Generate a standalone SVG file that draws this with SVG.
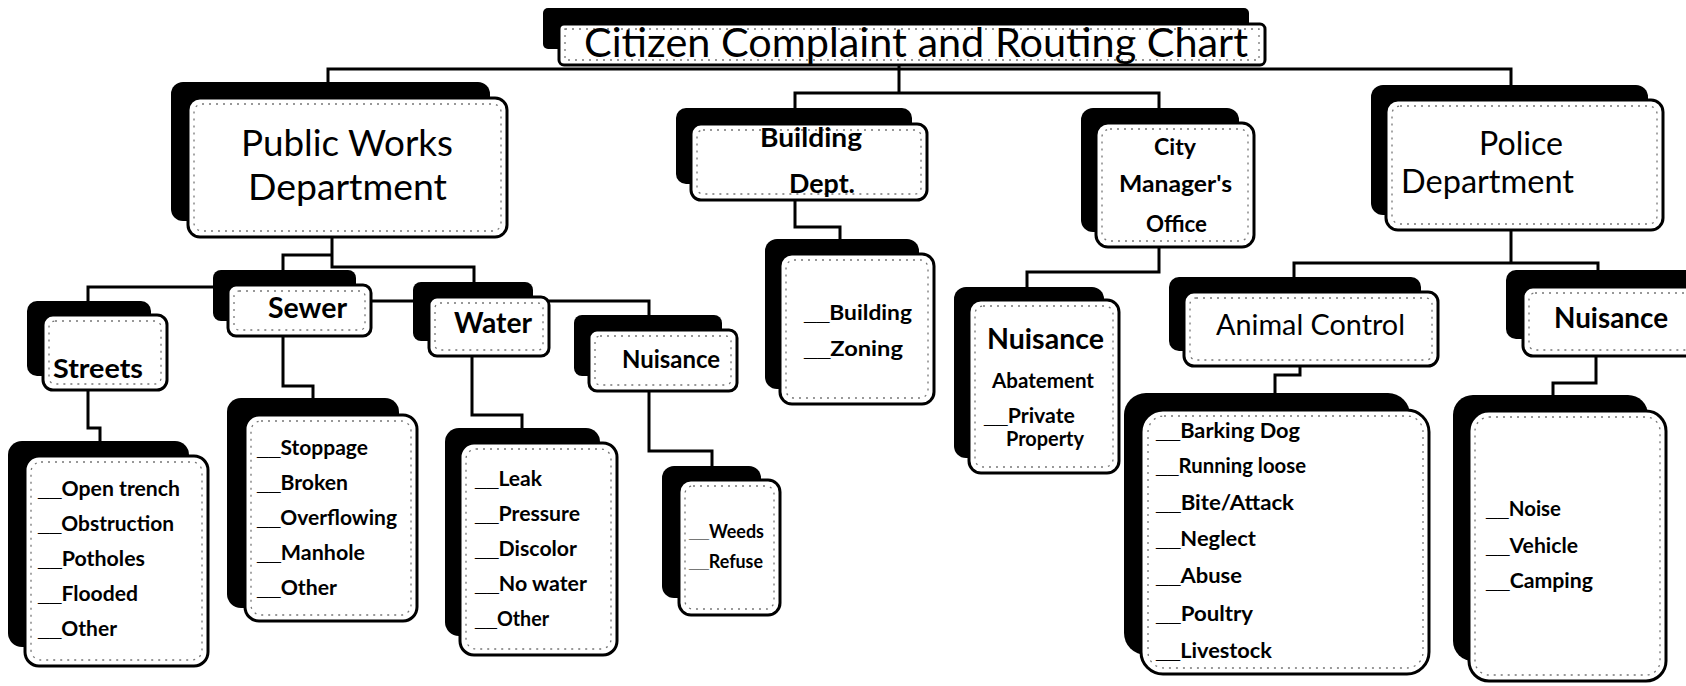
<svg xmlns="http://www.w3.org/2000/svg" width="1686" height="686" viewBox="0 0 1686 686">
<style>
.sh{fill:#000}
.fr{fill:#fff;stroke:#000;stroke-width:3}
.in{fill:none;stroke:#777;stroke-width:1.3;stroke-dasharray:2 5}
.cn{fill:none;stroke:#000;stroke-width:3}
text{font-family:Lato,"Open Sans","Liberation Sans",sans-serif;fill:#000}
.b{font-weight:bold}
.it{font-size:21px;font-weight:bold}
.u{font-family:"Liberation Sans",Arial,sans-serif}
</style>
<rect width="1686" height="686" fill="#fff"/>
<g id="connectors">
<path class="cn" d="M328 82V69H1511V85"/>
<path class="cn" d="M899 65V93"/>
<path class="cn" d="M795 110V93H1159V108"/>
<path class="cn" d="M332 237V267H474V282"/>
<path class="cn" d="M332 255H283V270"/>
<path class="cn" d="M88 302V287H283"/>
<path class="cn" d="M283 280V301H649V315"/>
<path class="cn" d="M795 200V227H840V240"/>
<path class="cn" d="M1159 247V272H1027V287"/>
<path class="cn" d="M1511 230V263"/>
<path class="cn" d="M1294 277V263H1598V270"/>
<path class="cn" d="M283 336V386H313V398"/>
<path class="cn" d="M88 390V428H100V441"/>
<path class="cn" d="M472 356V415H522V428"/>
<path class="cn" d="M649 391V451H712V466"/>
<path class="cn" d="M1300 366V375H1275V393"/>
<path class="cn" d="M1596 356V383H1553V395"/>
</g>
<g id="title">
<rect class="sh" x="543" y="8" width="706" height="41" rx="5"/>
<rect class="fr" x="559" y="24" width="706" height="41" rx="5"/>
<rect class="in" x="565" y="29" width="694" height="31"/>
<text x="584" y="57" font-size="40" textLength="664" lengthAdjust="spacingAndGlyphs">Citizen Complaint and Routing Chart</text>
</g>
<g id="public-works">
<rect class="sh" x="171" y="82" width="319" height="139" rx="12"/>
<rect class="fr" x="188" y="98" width="319" height="139" rx="12"/>
<rect class="in" x="194" y="104" width="307" height="127" rx="8"/>
<text x="241" y="156" font-size="36" textLength="212" lengthAdjust="spacingAndGlyphs">Public Works</text>
<text x="248" y="200" font-size="36" textLength="199" lengthAdjust="spacingAndGlyphs">Department</text>
</g>
<g id="building">
<rect class="sh" x="676" y="108" width="236" height="76" rx="10"/>
<rect class="fr" x="691" y="124" width="236" height="76" rx="10"/>
<rect class="in" x="697" y="130" width="224" height="64" rx="6"/>
<text class="b" x="760" y="147" font-size="27" textLength="102" lengthAdjust="spacingAndGlyphs">Building</text>
<text class="b" x="789" y="193" font-size="27" textLength="66" lengthAdjust="spacingAndGlyphs">Dept.</text>
</g>
<g id="city-manager">
<rect class="sh" x="1081" y="108" width="158" height="124" rx="12"/>
<rect class="fr" x="1096" y="123" width="158" height="124" rx="12"/>
<rect class="in" x="1102" y="129" width="146" height="112" rx="8"/>
<text class="b" x="1154" y="155" font-size="23" textLength="42" lengthAdjust="spacingAndGlyphs">City</text>
<text class="b" x="1119" y="192" font-size="23" textLength="113" lengthAdjust="spacingAndGlyphs">Manager's</text>
<text class="b" x="1146" y="232" font-size="23" textLength="61" lengthAdjust="spacingAndGlyphs">Office</text>
</g>
<g id="police">
<rect class="sh" x="1371" y="85" width="277" height="130" rx="12"/>
<rect class="fr" x="1386" y="100" width="277" height="130" rx="12"/>
<rect class="in" x="1392" y="106" width="265" height="118" rx="8"/>
<text x="1479" y="155" font-size="32" textLength="84" lengthAdjust="spacingAndGlyphs">Police</text>
<text x="1401" y="193" font-size="32" textLength="173" lengthAdjust="spacingAndGlyphs">Department</text>
</g>
<g id="streets">
<rect class="sh" x="27" y="301" width="124" height="75" rx="10"/>
<rect class="fr" x="43" y="315" width="124" height="75" rx="10"/>
<rect class="in" x="49" y="321" width="112" height="63" rx="6"/>
<text class="b" x="53" y="378" font-size="27" textLength="90" lengthAdjust="spacingAndGlyphs">Streets</text>
</g>
<g id="sewer">
<rect class="sh" x="213" y="270" width="143" height="51" rx="8"/>
<rect class="fr" x="228" y="285" width="143" height="51" rx="8"/>
<rect class="in" x="234" y="291" width="131" height="39" rx="5"/>
<text class="b" x="268" y="318" font-size="28" textLength="79" lengthAdjust="spacingAndGlyphs">Sewer</text>
</g>
<g id="water">
<rect class="sh" x="413" y="282" width="120" height="59" rx="8"/>
<rect class="fr" x="429" y="297" width="120" height="59" rx="8"/>
<rect class="in" x="435" y="303" width="108" height="47" rx="5"/>
<text class="b" x="454" y="333" font-size="28" textLength="78" lengthAdjust="spacingAndGlyphs">Water</text>
</g>
<g id="nuisance-pw">
<rect class="sh" x="574" y="315" width="148" height="61" rx="8"/>
<rect class="fr" x="589" y="330" width="148" height="61" rx="8"/>
<rect class="in" x="595" y="336" width="136" height="49" rx="5"/>
<text class="b" x="622" y="368" font-size="25" textLength="98" lengthAdjust="spacingAndGlyphs">Nuisance</text>
</g>
<g id="building-list">
<rect class="sh" x="765" y="239" width="154" height="150" rx="12"/>
<rect class="fr" x="780" y="254" width="154" height="150" rx="12"/>
<rect class="in" x="786" y="260" width="142" height="138" rx="8"/>
<text class="it" x="804" y="320" textLength="108" lengthAdjust="spacingAndGlyphs"><tspan class="u">__</tspan>Building</text>
<text class="it" x="804" y="356" textLength="99" lengthAdjust="spacingAndGlyphs"><tspan class="u">__</tspan>Zoning</text>
</g>
<g id="nuisance-abatement">
<rect class="sh" x="954" y="287" width="150" height="171" rx="12"/>
<rect class="fr" x="969" y="300" width="150" height="173" rx="12"/>
<rect class="in" x="975" y="306" width="138" height="161" rx="8"/>
<text class="b" x="987" y="349" font-size="28" textLength="117" lengthAdjust="spacingAndGlyphs">Nuisance</text>
<text class="b" x="992" y="388" font-size="20" textLength="102" lengthAdjust="spacingAndGlyphs">Abatement</text>
<text class="b" x="984" y="423" font-size="20" textLength="91" lengthAdjust="spacingAndGlyphs"><tspan class="u">__</tspan>Private</text>
<text class="b" x="1006" y="446" font-size="20" textLength="78" lengthAdjust="spacingAndGlyphs">Property</text>
</g>
<g id="animal-control">
<rect class="sh" x="1169" y="277" width="252" height="74" rx="10"/>
<rect class="fr" x="1184" y="292" width="254" height="74" rx="10"/>
<rect class="in" x="1190" y="298" width="242" height="62" rx="6"/>
<text x="1216" y="335" font-size="28" textLength="189" lengthAdjust="spacingAndGlyphs">Animal Control</text>
</g>
<g id="nuisance-police">
<rect class="sh" x="1506" y="270" width="190" height="69" rx="10"/>
<rect class="fr" x="1523" y="287" width="190" height="69" rx="10"/>
<rect class="in" x="1529" y="293" width="178" height="57" rx="6"/>
<text class="b" x="1554" y="328" font-size="28" textLength="114" lengthAdjust="spacingAndGlyphs">Nuisance</text>
</g>
<g id="streets-list">
<rect class="sh" x="8" y="441" width="181" height="206" rx="14"/>
<rect class="fr" x="25" y="456" width="183" height="210" rx="14"/>
<rect class="in" x="31" y="462" width="171" height="198" rx="10"/>
<text class="it" x="38" y="496" textLength="142" lengthAdjust="spacingAndGlyphs"><tspan class="u">__</tspan>Open trench</text>
<text class="it" x="38" y="531" textLength="136" lengthAdjust="spacingAndGlyphs"><tspan class="u">__</tspan>Obstruction</text>
<text class="it" x="38" y="566" textLength="107" lengthAdjust="spacingAndGlyphs"><tspan class="u">__</tspan>Potholes</text>
<text class="it" x="38" y="601" textLength="100" lengthAdjust="spacingAndGlyphs"><tspan class="u">__</tspan>Flooded</text>
<text class="it" x="38" y="636" textLength="79" lengthAdjust="spacingAndGlyphs"><tspan class="u">__</tspan>Other</text>
</g>
<g id="sewer-list">
<rect class="sh" x="227" y="398" width="172" height="210" rx="14"/>
<rect class="fr" x="245" y="415" width="172" height="206" rx="14"/>
<rect class="in" x="251" y="421" width="160" height="194" rx="10"/>
<text class="it" x="257" y="455" textLength="111" lengthAdjust="spacingAndGlyphs"><tspan class="u">__</tspan>Stoppage</text>
<text class="it" x="257" y="490" textLength="91" lengthAdjust="spacingAndGlyphs"><tspan class="u">__</tspan>Broken</text>
<text class="it" x="257" y="525" textLength="140" lengthAdjust="spacingAndGlyphs"><tspan class="u">__</tspan>Overflowing</text>
<text class="it" x="257" y="560" textLength="108" lengthAdjust="spacingAndGlyphs"><tspan class="u">__</tspan>Manhole</text>
<text class="it" x="257" y="595" textLength="80" lengthAdjust="spacingAndGlyphs"><tspan class="u">__</tspan>Other</text>
</g>
<g id="water-list">
<rect class="sh" x="445" y="428" width="155" height="208" rx="14"/>
<rect class="fr" x="460" y="443" width="157" height="212" rx="14"/>
<rect class="in" x="466" y="449" width="145" height="200" rx="10"/>
<text class="it" x="475" y="486" textLength="67" lengthAdjust="spacingAndGlyphs"><tspan class="u">__</tspan>Leak</text>
<text class="it" x="475" y="521" textLength="105" lengthAdjust="spacingAndGlyphs"><tspan class="u">__</tspan>Pressure</text>
<text class="it" x="475" y="556" textLength="102" lengthAdjust="spacingAndGlyphs"><tspan class="u">__</tspan>Discolor</text>
<text class="it" x="475" y="591" textLength="112" lengthAdjust="spacingAndGlyphs"><tspan class="u">__</tspan>No water</text>
<text class="it" x="475" y="626" textLength="74" lengthAdjust="spacingAndGlyphs"><tspan class="u">__</tspan>Other</text>
</g>
<g id="weeds-list">
<rect class="sh" x="662" y="466" width="99" height="132" rx="12"/>
<rect class="fr" x="679" y="480" width="101" height="135" rx="12"/>
<rect class="in" x="685" y="486" width="89" height="123" rx="8"/>
<text class="b" x="689" y="538" font-size="18" textLength="75" lengthAdjust="spacingAndGlyphs"><tspan class="u">__</tspan>Weeds</text>
<text class="b" x="689" y="568" font-size="18" textLength="74" lengthAdjust="spacingAndGlyphs"><tspan class="u">__</tspan>Refuse</text>
</g>
<g id="animal-list">
<rect class="sh" x="1124" y="393" width="286" height="262" rx="22"/>
<rect class="fr" x="1141" y="410" width="288" height="264" rx="22"/>
<rect class="in" x="1148" y="416" width="275" height="252" rx="16"/>
<text class="it" x="1156" y="438" textLength="144" lengthAdjust="spacingAndGlyphs"><tspan class="u">__</tspan>Barking Dog</text>
<text class="it" x="1156" y="473" font-size="19" textLength="150" lengthAdjust="spacingAndGlyphs"><tspan class="u">__</tspan>Running loose</text>
<text class="it" x="1156" y="510" textLength="138" lengthAdjust="spacingAndGlyphs"><tspan class="u">__</tspan>Bite/Attack</text>
<text class="it" x="1156" y="546" textLength="100" lengthAdjust="spacingAndGlyphs"><tspan class="u">__</tspan>Neglect</text>
<text class="it" x="1156" y="583" textLength="86" lengthAdjust="spacingAndGlyphs"><tspan class="u">__</tspan>Abuse</text>
<text class="it" x="1156" y="621" textLength="97" lengthAdjust="spacingAndGlyphs"><tspan class="u">__</tspan>Poultry</text>
<text class="it" x="1156" y="658" textLength="116" lengthAdjust="spacingAndGlyphs"><tspan class="u">__</tspan>Livestock</text>
</g>
<g id="police-nuisance-list">
<rect class="sh" x="1453" y="395" width="195" height="266" rx="20"/>
<rect class="fr" x="1469" y="411" width="197" height="270" rx="20"/>
<rect class="in" x="1475" y="417" width="185" height="258" rx="14"/>
<text class="it" x="1486" y="516" textLength="75" lengthAdjust="spacingAndGlyphs"><tspan class="u">__</tspan>Noise</text>
<text class="it" x="1486" y="553" textLength="92" lengthAdjust="spacingAndGlyphs"><tspan class="u">__</tspan>Vehicle</text>
<text class="it" x="1486" y="588" textLength="107" lengthAdjust="spacingAndGlyphs"><tspan class="u">__</tspan>Camping</text>
</g>
</svg>
